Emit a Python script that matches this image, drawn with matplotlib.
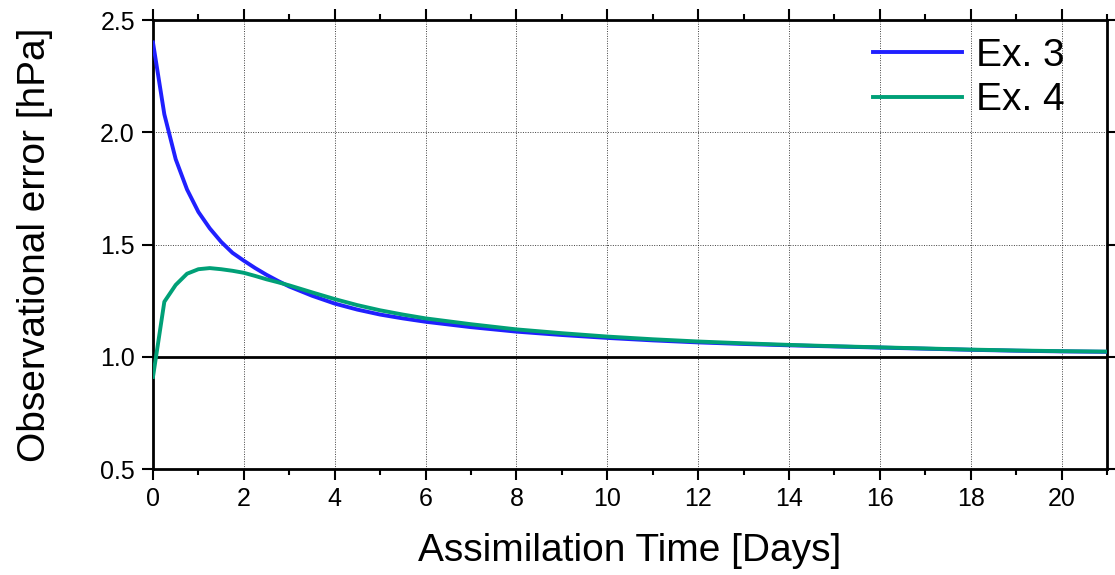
import numpy as np
import matplotlib
matplotlib.use("Agg")
import matplotlib.pyplot as plt
from matplotlib.ticker import MultipleLocator

plt.rcParams['font.family'] = ['Liberation Sans', 'DejaVu Sans']

# Данные (оценены по рисунку)
days = [0, 0.25, 0.5, 0.75, 1.0, 1.25, 1.5, 1.75, 2.0, 2.25, 2.5, 2.75, 3.0,
        3.5, 4.0, 4.5, 5.0, 5.5, 6.0, 7.0, 8.0, 9.0, 10.0, 11.0, 12.0, 13.0,
        14.0, 15.0, 16.0, 17.0, 18.0, 19.0, 20.0, 21.0]
ex3 = [2.40, 2.08, 1.88, 1.745, 1.645, 1.572, 1.512, 1.463, 1.428, 1.395,
       1.365, 1.338, 1.313, 1.272, 1.237, 1.210, 1.188, 1.171, 1.156, 1.132,
       1.112, 1.097, 1.084, 1.073, 1.064, 1.057, 1.051, 1.046, 1.041, 1.036,
       1.031, 1.027, 1.024, 1.022]
ex4 = [0.91, 1.245, 1.32, 1.37, 1.39, 1.395, 1.39, 1.383, 1.374, 1.36,
       1.345, 1.332, 1.318, 1.287, 1.257, 1.230, 1.207, 1.188, 1.171, 1.145,
       1.122, 1.105, 1.090, 1.078, 1.068, 1.060, 1.053, 1.047, 1.042, 1.037,
       1.032, 1.028, 1.025, 1.023]
series_labels = ['Ex. 3', 'Ex. 4']

fig = plt.figure(figsize=(11.15, 5.75), dpi=100)
ax = fig.add_axes([0.1372, 0.1843, 0.8556, 0.7809])

ax.axhline(1.0, color='black', linewidth=2, zorder=2)
ax.plot(days, ex3, color='#2020ff', linewidth=2.8, label=series_labels[0], zorder=3)
ax.plot(days, ex4, color='#00a077', linewidth=2.8, label=series_labels[1], zorder=4)

ax.set_xlim(0, 21)
ax.set_ylim(0.5, 2.5)
ax.xaxis.set_major_locator(MultipleLocator(2))
ax.xaxis.set_minor_locator(MultipleLocator(1))
ax.yaxis.set_major_locator(MultipleLocator(0.5))
ax.yaxis.set_major_formatter(matplotlib.ticker.FormatStrFormatter('%.1f'))

# Сетка и рамка
ax.grid(True, which='major', linestyle=(0, (1, 1.5)), color='black', linewidth=0.7, alpha=0.75)
for s in ax.spines.values():
    s.set_linewidth(2)
ax.tick_params(which='major', direction='out', length=8, width=1.5,
               top=True, right=True, labelsize=18, pad=5)
ax.tick_params(which='minor', direction='out', length=4, width=1.5,
               top=True, right=True)

ax.set_xlabel('Assimilation Time [Days]', fontsize=28, labelpad=16)
ax.set_ylabel('Observational error [hPa]', fontsize=28, labelpad=34)

ax.legend(loc='upper right', fontsize=28, frameon=False, handlelength=2.3,
          handletextpad=0.35, labelspacing=0.22, borderaxespad=0.0,
          bbox_to_anchor=(0.972, 0.995))

fig.savefig('out.png', dpi=100)
